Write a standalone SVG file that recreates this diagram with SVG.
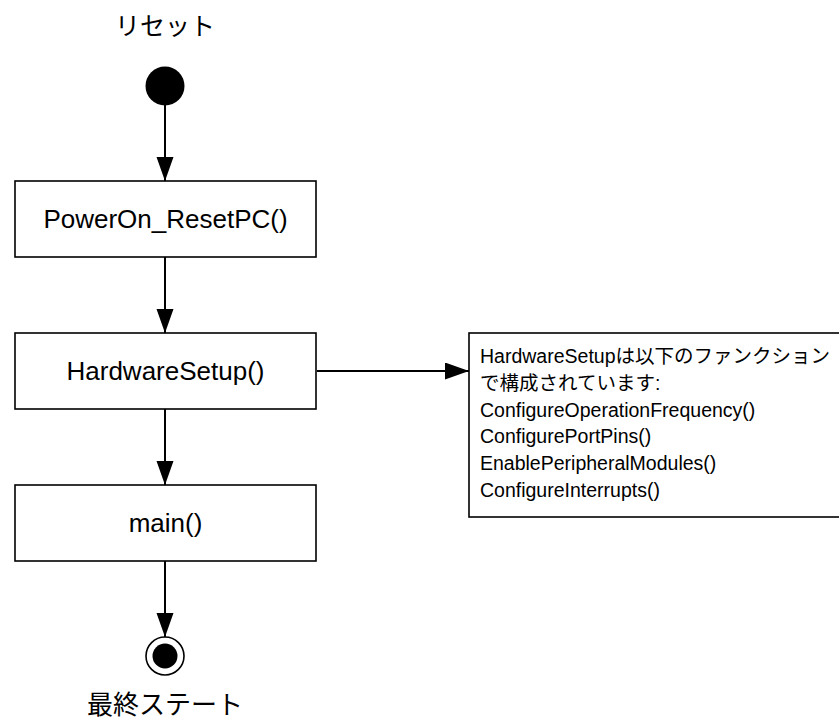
<svg xmlns="http://www.w3.org/2000/svg" width="839" height="724" viewBox="0 0 839 724">
<style>
  .box { fill: #fff; stroke: #000; stroke-width: 1.6; }
  .lbl { font-family: "Liberation Sans", "Noto Sans CJK JP", sans-serif; font-size: 26px; fill: #000; text-anchor: middle; }
  .note { font-family: "Liberation Sans", "Noto Sans CJK JP", sans-serif; font-size: 19.5px; fill: #000; }
  .edge { stroke: #000; stroke-width: 2; fill: none; marker-end: url(#arr); }
</style>
<defs>
  <marker id="arr" markerUnits="userSpaceOnUse" markerWidth="26" markerHeight="18" refX="24" refY="8.5" orient="auto">
    <path d="M0,0 L24,8.5 L0,17 Z" fill="#000"/>
  </marker>
</defs>
<rect width="839" height="724" fill="#fff"/>
<g id="connectors">
  <line class="edge" x1="165" y1="105" x2="165" y2="181"/>
  <line class="edge" x1="165" y1="257" x2="165" y2="333"/>
  <line class="edge" x1="165" y1="409" x2="165" y2="485"/>
  <line class="edge" x1="165" y1="561" x2="165" y2="637"/>
  <line class="edge" x1="317" y1="371" x2="469" y2="371"/>
</g>
<g id="start">
  <text class="lbl" x="165" y="35" style="font-size:25px">リセット</text>
  <circle cx="165" cy="86" r="19.5" fill="#000"/>
</g>
<g id="poweron">
  <rect class="box" x="15" y="181" width="301" height="76"/>
  <text class="lbl" x="165.5" y="228">PowerOn_ResetPC()</text>
</g>
<g id="hardwaresetup">
  <rect class="box" x="15" y="333" width="301" height="76"/>
  <text class="lbl" x="165.5" y="380">HardwareSetup()</text>
</g>
<g id="main">
  <rect class="box" x="15" y="485" width="301" height="76"/>
  <text class="lbl" x="165.5" y="532">main()</text>
</g>
<g id="end">
  <circle cx="165" cy="656" r="19" fill="#fff" stroke="#000" stroke-width="1.6"/>
  <circle cx="165" cy="656" r="12.5" fill="#000"/>
  <text class="lbl" x="165" y="714">最終ステート</text>
</g>
<g id="note">
  <rect class="box" x="469" y="333" width="380" height="184"/>
  <text class="note" x="480" y="363">HardwareSetupは以下のファンクション</text>
  <text class="note" x="480" y="390">で構成されています:</text>
  <text class="note" x="480" y="417">ConfigureOperationFrequency()</text>
  <text class="note" x="480" y="443">ConfigurePortPins()</text>
  <text class="note" x="480" y="470">EnablePeripheralModules()</text>
  <text class="note" x="480" y="497">ConfigureInterrupts()</text>
</g>
</svg>
